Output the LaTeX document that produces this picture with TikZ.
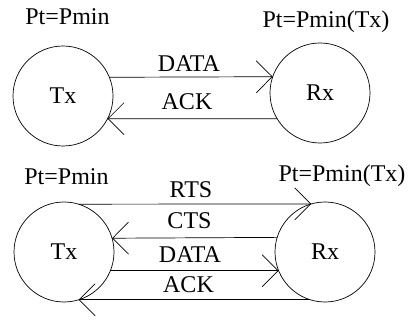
\documentclass[tikz,border=0pt]{standalone}
\usepackage{fontspec}
\setmainfont{Liberation Serif}
\usetikzlibrary{arrows.meta}
\begin{document}
\begin{tikzpicture}[x=1pt,y=-1pt,
  txt/.style={font=\fontsize{24}{28}\selectfont},
  station/.style={circle, draw, minimum size=100pt, inner sep=0pt, outer sep=0pt, line width=0.7pt, txt},
  lbl/.style={anchor=base, inner sep=0pt, txt},
  msg/.style={line width=0.7pt, -{Straight Barb[length=16pt,width=32pt]}}]
\useasboundingbox (0,0) rectangle (409,320);
% ---- top scenario ----
\node[station] (tx1) at (63,96) {Tx};
\node[station] (rx1) at (320,93) {Rx};
\node[lbl] (p1) at (67.5,25) {Pt=Pmin};
\node[lbl] (q1) at (326,28) {Pt=Pmin(Tx)};
\node[lbl] (d1) at (189,72) {DATA};
\node[lbl] (a1) at (187,110) {ACK};
\draw[msg] (tx1.22.33) -- (rx1.161.34);
\draw[msg] (rx1.211.33) -- (tx1.-27.39);
% ---- bottom scenario ----
\node[station] (tx2) at (64,252) {Tx};
\node[station] (rx2) at (325,252) {Rx};
\node[lbl] (p2) at (66.5,185) {Pt=Pmin};
\node[lbl] (q2) at (342,182) {Pt=Pmin(Tx)};
\node[lbl] (r2) at (191,198) {RTS};
\node[lbl] (c2) at (189.5,229) {CTS};
\node[lbl] (d2) at (190,262) {DATA};
\node[lbl] (a2) at (188.5,292) {ACK};
\draw[msg] (tx2.73.74) -- (rx2.106.26);
\draw[msg] (rx2.163.74) -- (tx2.16.26);
\draw[msg] (tx2.-22.33) -- (rx2.202.33);
\draw[msg] (rx2.253.74) -- (tx2.-73.74);
\end{tikzpicture}
\end{document}
